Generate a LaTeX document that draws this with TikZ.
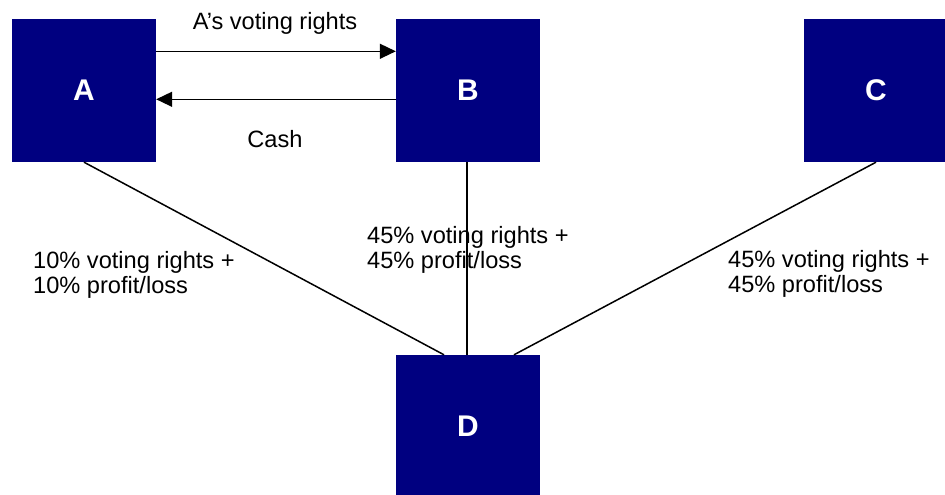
\documentclass[tikz,border=0pt]{standalone}
\usepackage{fontspec}
\setmainfont{Liberation Sans}
\usetikzlibrary{arrows.meta,calc}
\definecolor{navy}{HTML}{000080}
\begin{document}
\begin{tikzpicture}[x=1bp,y=-1bp,
  box/.style={fill=navy,draw=none,minimum width=144bp,minimum height=143bp,inner sep=0pt,
    text=white,font=\fontsize{30}{30}\selectfont\bfseries},
  lbl/.style={inner sep=0pt,align=left,font=\fontsize{23.7}{25.5}\selectfont},
  conn/.style={line width=1.5bp,black},
  arr/.style={conn,-{Triangle[length=16bp,width=15bp]}}]
\useasboundingbox (0,0) rectangle (945,495);
\node[box] (A) at (84,90.5) {A};
\node[box] (B) at (468,90.5) {B};
\node[box] (C) at (876,90.5) {C};
\node[box] (D) at (468,426.5) {D};
\coordinate (a1) at ($(A.north east)+(0,32.5)$);
\coordinate (b1) at ($(B.north west)+(0,32.5)$);
\coordinate (a2) at ($(A.north east)+(0,80.5)$);
\coordinate (b2) at ($(B.north west)+(0,80.5)$);
\draw[arr] (a1) -- (b1);
\draw[arr] (b2) -- (a2);
\coordinate (dA) at ($(D.north)+(-24,0)$);
\coordinate (dB) at ($(D.north)+(-1,0)$);
\coordinate (dC) at ($(D.north)+(46,0)$);
\coordinate (bB) at ($(B.south)+(-1,0)$);
\draw[conn] (A.south) -- (dA);
\draw[conn] (bB) -- (dB);
\draw[conn] (C.south) -- (dC);
\node[lbl,anchor=base] (t1) at (275,30) {A’s voting rights};
\node[lbl,anchor=base] (t2) at (275,148) {Cash};
\node[lbl,anchor=base west] (t3) at (33,293.5) {10\% voting rights +\\10\% profit/loss};
\node[lbl,anchor=base west] (t4) at (367,269) {45\% voting rights +\\45\% profit/loss};
\node[lbl,anchor=base west] (t5) at (728,293) {45\% voting rights +\\45\% profit/loss};
\end{tikzpicture}
\end{document}
